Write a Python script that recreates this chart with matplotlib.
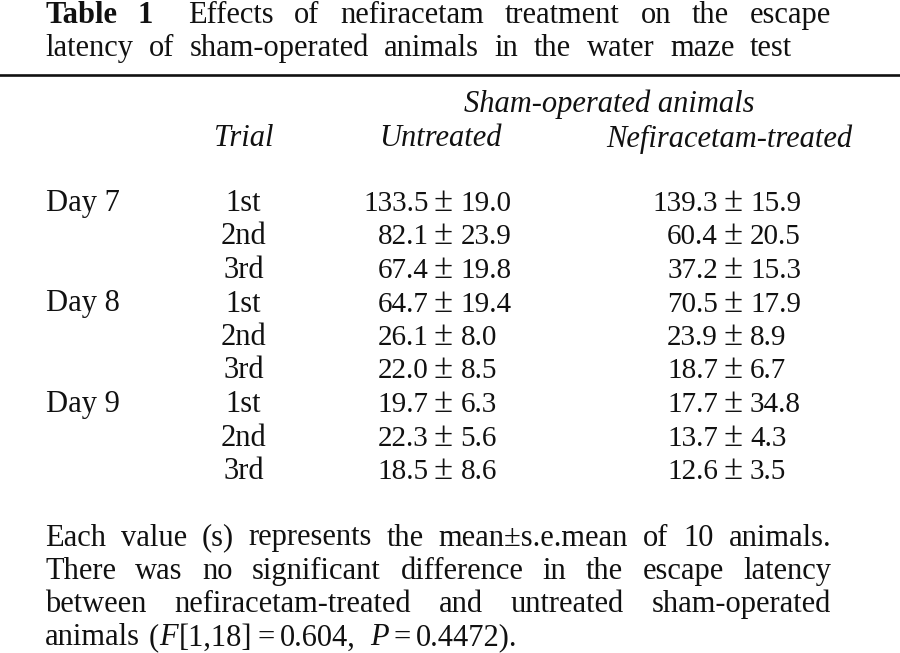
import matplotlib
matplotlib.use("Agg")
import matplotlib.pyplot as plt

# ---------------- data ----------------
title_bold = ["Table", "1"]
title_line1 = "Effects of nefiracetam treatment on the escape"
title_line2 = "latency of sham-operated animals in the water maze test"
group_header = "Sham-operated animals"
col_headers = ["Trial", "Untreated", "Nefiracetam-treated"]
days = ["Day 7", "Day 8", "Day 9"]
trials = ["1st", "2nd", "3rd"]
untreated_mean = [133.5, 82.1, 67.4, 64.7, 26.1, 22.0, 19.7, 22.3, 18.5]
untreated_sem = [19.0, 23.9, 19.8, 19.4, 8.0, 8.5, 6.3, 5.6, 8.6]
nef_mean = [139.3, 60.4, 37.2, 70.5, 23.9, 18.7, 17.7, 13.7, 12.6]
nef_sem = [15.9, 20.5, 15.3, 17.9, 8.9, 6.7, 34.8, 4.3, 3.5]
foot_line1 = "Each value (s) represents the mean\u00b1s.e.mean of 10 animals."
foot_line2 = "There was no significant difference in the escape latency"
foot_line3 = "between nefiracetam-treated and untreated sham-operated"
foot_line4 = [("animals", ""), ("(", ""), ("F", "i"), ("[1,18]", ""), ("=", ""),
              ("0.604,", ""), ("P", "i"), ("=", ""), ("0.4472).", "")]

# ---------------- setup ----------------
FONT = "Liberation Serif"
FS = 22
FS_NUM = 21
INK = "#111111"

fig = plt.figure(figsize=(9, 6.53), dpi=100)
fig.patch.set_facecolor("white")
ax = fig.add_axes([0, 0, 1, 1])
ax.set_xlim(0, 900)
ax.set_ylim(653, 0)
ax.axis("off")
renderer = fig.canvas.get_renderer()


def style(code):
    st = {}
    if "b" in code:
        st["fontweight"] = "bold"
    if "i" in code:
        st["fontstyle"] = "italic"
    return st


def width(s, code="", fs=FS):
    t = ax.text(0, 0, s, fontsize=fs, family=FONT, **style(code))
    w = t.get_window_extent(renderer).width
    t.remove()
    return w


def put(x, y, s, code="", ha="left", fs=FS):
    ax.text(x, y, s, fontsize=fs, family=FONT, ha=ha, va="baseline",
            color=INK, **style(code))


def justify(items, x0, x1, y, weights=None):
    ws = [width(w, c) for w, c in items]
    n = len(items)
    if weights is None:
        weights = [1.0] * (n - 1)
    g = (x1 - x0 - sum(ws)) / sum(weights)
    x = x0
    for i, (w, c) in enumerate(items):
        put(x, y, w, c)
        if i < n - 1:
            x += ws[i] + g * weights[i]


def flow(items, x0, y, gaps):
    x = x0
    for i, (w, c) in enumerate(items):
        put(x, y, w, c)
        x += width(w, c) + (gaps[i] if i < len(gaps) else 0)


LEFT, RIGHT = 45, 831

# ---------------- title ----------------
t1 = [(w, "b") for w in title_bold] + [(w, "") for w in title_line1.split()]
wts = [1.0] * (len(t1) - 1)
wts[1] = 1.65
justify(t1, LEFT, RIGHT, 23, wts)
justify([(w, "") for w in title_line2.split()], LEFT, 792, 56)

ax.axhline(74.8, color=INK, lw=1.9)

# ---------------- headers ----------------
put(609, 112, group_header, "i", ha="center")
put(243.5, 146.5, col_headers[0], "i", ha="center")
put(440, 146.5, col_headers[1], "i", ha="center")
put(729, 146.5, col_headers[2], "i", ha="center")

# ---------------- body ----------------
y0, dy = 211, 33.5
pm_cols = [443.5, 733]
for i in range(len(untreated_mean)):
    y = y0 + i * dy
    if i % 3 == 0:
        put(46, y, days[i // 3])
    put(243.5, y, trials[i % 3], ha="center")
    for cx, m, s in ((pm_cols[0], untreated_mean[i], untreated_sem[i]),
                     (pm_cols[1], nef_mean[i], nef_sem[i])):
        put(cx - 15, y, f"{m:.1f}", ha="right", fs=FS_NUM)
        put(cx, y, "\u00b1", ha="center", fs=25)
        put(cx + 17, y, f"{s:.1f}", ha="left", fs=FS_NUM)

# ---------------- footnote ----------------
fy0, fdy = 545.5, 33.3
justify([(w, "") for w in foot_line1.split()], LEFT, RIGHT, fy0)
justify([(w, "") for w in foot_line2.split()], LEFT, RIGHT, fy0 + fdy)
justify([(w, "") for w in foot_line3.split()], LEFT, RIGHT, fy0 + 2 * fdy)
flow(foot_line4, LEFT, fy0 + 3 * fdy, gaps=[9, 0, 1, 5, 5, 15, 5, 5])

fig.savefig("out.png", dpi=100, facecolor="white")
